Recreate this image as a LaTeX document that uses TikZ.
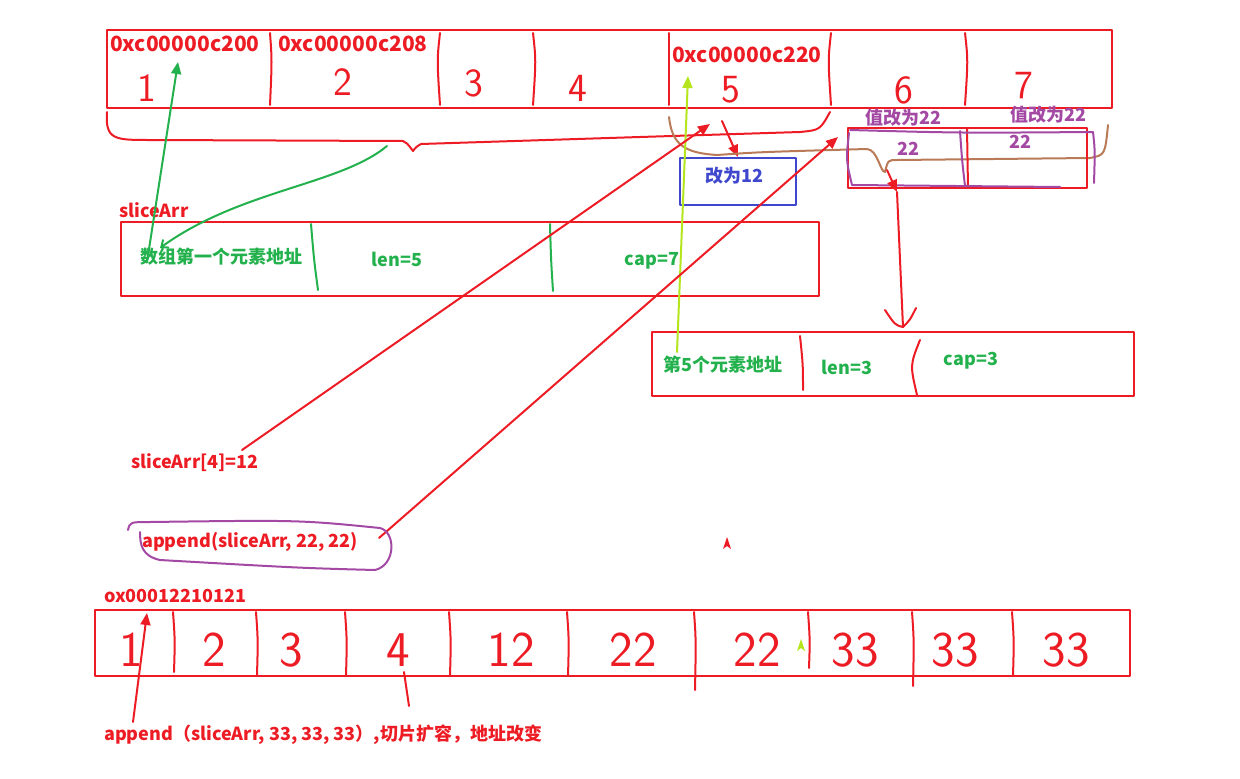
\documentclass[tikz,border=0pt]{standalone}
\usepackage{fontspec}
\setmainfont{Noto Sans CJK SC}
\newfontfamily\handfont{Latin Modern Sans}
\usetikzlibrary{arrows.meta}
\definecolor{inkred}{RGB}{237,28,36}
\definecolor{inkgreen}{RGB}{34,177,76}
\definecolor{inkblue}{RGB}{63,72,204}
\definecolor{inkpurple}{RGB}{163,73,164}
\definecolor{inkbrown}{RGB}{185,122,87}
\definecolor{inklime}{RGB}{181,230,29}

\begin{document}
\begin{tikzpicture}[
    x=1pt, y=-1pt, >={Triangle[length=12pt,width=10pt]}, line cap=round, line join=round,
    cell/.style ={draw=inkred, line width=2pt},
    ink/.style  ={line width=2pt},
    lbl/.style  ={font=\bfseries\fontsize{18}{18}\selectfont, inner sep=0pt},
    addr/.style ={font=\bfseries\fontsize{21}{21}\selectfont, inner sep=0pt, text=inkred, anchor=west},
    hand/.style ={font=\handfont\fontsize{40}{40}\selectfont, text=inkred, inner sep=0pt},
    bighand/.style={font=\handfont\fontsize{50}{50}\selectfont, text=inkred, inner sep=0pt}
]
\useasboundingbox (0,0) rectangle (1240,779);

% array [1..7] (y=30..108)
\draw[cell] (107,30) rectangle (1112,108);
\foreach \x/\b in {270/2,440/-3,533/3,669/0,831/-3,965/3}
  \draw[cell] (\x,33) .. controls (\x+\b,60) .. (\x,105);
\node[addr] (a200) at (110,44) {0xc00000c200};
\node[addr] (a208) at (278,44) {0xc00000c208};
\node[addr] (a220) at (672,55) {0xc00000c220};
\foreach \n/\x/\y in {1/147/88, 2/343/82, 3/474/83, 4/578/88, 5/731/90, 6/904/90, 7/1024/86}
  \node[hand] (t\n) at (\x,\y) {\n};
\coordinate (p200) at (178,62);
\coordinate (p220) at (688,76);

% brace under the array
\draw[cell] (107,112) .. controls (105,140) and (115,140) .. (150,140) -- (403,141)
  .. controls (407,143) .. (413,151) .. controls (416,147) .. (421,144) -- (640,137)
  -- (800,132) .. controls (820,130) .. (830,112);
\coordinate (bracetip) at (387,146);

% sliceArr (y=222..296)
\node[lbl, text=inkred, anchor=west] (sname) at (119,210) {sliceArr};
\draw[cell] (121,222) rectangle (819,296);
\draw[ink, inkgreen] (311,224) .. controls (314,260) .. (318,290);
\draw[ink, inkgreen] (550,224) .. controls (551,260) .. (553,291);
\node[lbl, text=inkgreen] (first) at (221,257) {数组第一个元素地址};
\node[lbl, text=inkgreen] (len5) at (397,259) {len=5};
\node[lbl, text=inkgreen] (cap7) at (652,261) {cap=7};
\coordinate (ptr0) at (147,262);
\coordinate (hook) at (160,248);
\draw[ink, inkgreen, ->] (ptr0) -- (p200);
\draw[ink, inkgreen, -{Straight Barb[length=6pt,width=10pt]}] (bracetip)
  .. controls (340,185) and (240,190) .. (hook);

% sliceArr[4]=12
\node[draw=inkblue, line width=2pt, minimum width=116pt, minimum height=47pt, inner sep=0pt] (chg) at (738,181.5) {};
\node[lbl, text=inkblue] (chgtxt) at (734,176) {改为12};
\coordinate (c5) at (722,121);
\draw[ink, inkred, ->] (c5) -- (chg.north);

% new slice over [5..7] (brown brace)
\draw[ink, inkbrown] (669,117) .. controls (672,145) and (685,153) .. (717,155)
  .. controls (760,152) .. (867,149) .. controls (878,150) and (880,172) .. (885,172)
  .. controls (888,160) .. (897,160) -- (1090,158) .. controls (1105,155) .. (1108,125);
\coordinate (dip) at (887,170);

% append(sliceArr, 22, 22) cells
\draw[cell] (848,128) rectangle (1087,188);
\draw[cell] (967,128) -- (968,188);
\draw[ink, inkpurple] (850,130) .. controls (960,133) .. (1093,132) .. controls (1095,150) .. (1094,183);
\draw[ink, inkpurple] (849,133) .. controls (846,160) .. (852,185) -- (1060,187);
\draw[ink, inkpurple] (960,131) .. controls (962,160) .. (965,186);
\node[lbl, text=inkpurple] (v6) at (903,118) {值改为22};
\node[lbl, text=inkpurple] (v7) at (1048,115) {值改为22};
\node[lbl, text=inkpurple] (n6) at (908,149) {22};
\node[lbl, text=inkpurple] (n7) at (1020,142) {22};
\coordinate (drop) at (897,192);
\coordinate (vtip) at (903,327);
\draw[ink, inkred, ->] (dip) -- (drop);
\draw[ink, inkred] (drop) .. controls (900,260) .. (vtip);
\draw[ink, inkred] (885,310) .. controls (895,325) .. (vtip) .. controls (910,320) .. (916,308);

% second slice (y=332..396)
\draw[cell] (652,332) rectangle (1134,396);
\draw[cell] (800,336) .. controls (803,365) .. (803,390);
\draw[cell] (920,340) .. controls (910,365) .. (917,395);
\node[lbl, text=inkgreen] (fifth) at (723,365) {第5个元素地址};
\node[lbl, text=inkgreen] (len3) at (847,367) {len=3};
\node[lbl, text=inkgreen] (cap3) at (971,361) {cap=3};
\coordinate (ptr5) at (677,352);
\draw[ink, inklime, ->] (ptr5) -- (p220);

% statements
\node[lbl, text=inkred, anchor=west] (assign) at (131,463) {sliceArr[4]=12};
\coordinate (assignend) at (242,450);
\coordinate (c5b) at (710,124);
\draw[ink, inkred, ->] (assignend) -- (c5b);
\node[lbl, text=inkred, anchor=west] (app22) at (142,542) {append(sliceArr, 22, 22)};
\coordinate (append22) at (379,538);
\coordinate (c6) at (838,137);
\draw[ink, inkred, ->] (append22) -- (c6);
\draw[ink, inkpurple] (128,530) .. controls (130,522) .. (150,522) .. controls (300,520) .. (380,528)
  .. controls (396,532) and (396,565) .. (375,570) .. controls (300,568) .. (160,560)
  .. controls (142,556) and (140,545) .. (140,532);
\fill[inkred] (727,537) -- (723,549) -- (727,546) -- (731,549) -- cycle;
\fill[inklime] (801,639) -- (797,651) -- (801,648) -- (805,651) -- cycle;

% grown array (y=610..676)
\node[lbl, text=inkred, anchor=west] (newaddr) at (104,596) {ox00012210121};
\draw[cell] (95,610) rectangle (1130,676);
\foreach \x/\e in {173/672, 256/675, 345/676, 449/676, 567/676, 694/690, 808/668, 912/686, 1012/676}
  \draw[cell] (\x,612) .. controls (\x+2,640) .. (\x+1,\e);
\draw[cell] (404,672) -- (409,706);
\foreach \v/\x/\k in {1/131/1, 2/214/2, 3/291/3, 4/398/4, 12/511/5, 22/633/6, 22/757/7, 33/855/8, 33/955/9, 33/1066/10}
  \node[bighand] (b\k) at (\x,650) {\v};
\node[lbl, text=inkred, anchor=west] (app33) at (104,735) {append（sliceArr, 33, 33, 33）,切片扩容，地址改变};
\coordinate (app33top) at (133,722);
\coordinate (new0) at (147,613);
\draw[ink, inkred, ->] (app33top) -- (new0);
\end{tikzpicture}
\end{document}
